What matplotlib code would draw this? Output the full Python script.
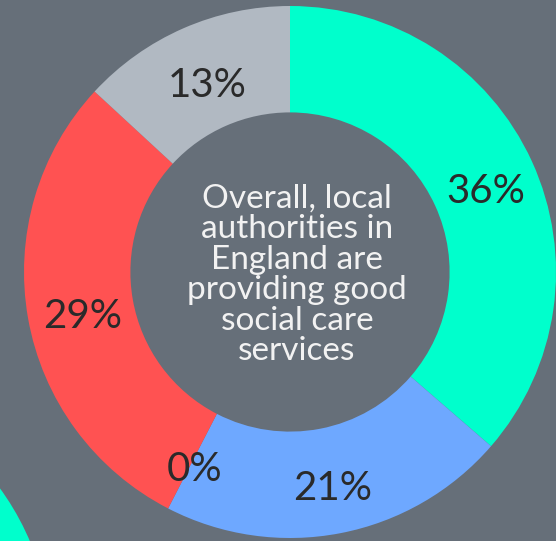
import matplotlib
matplotlib.use("Agg")
import matplotlib.pyplot as plt
from matplotlib.patches import Wedge

# Survey response shares (percent)
responses = ["Strongly agree", "Agree", "Neither", "Disagree", "Don't know"]
shares = [36, 21, 0, 29, 13]
colors = ["#00ffcc", "#6ea8ff", "#8a8a8a", "#ff5252", "#b1b9c2"]
question = "Overall, local\nauthorities in\nEngland are\nproviding good\nsocial care\nservices"

W, H = 556, 541
bg = "#666f79"

fig = plt.figure(figsize=(W / 100, H / 100), dpi=100, facecolor=bg)
ax = fig.add_axes([0, 0, 1, 1])
ax.set_facecolor(bg)

cx, cy, R = 290, 269, 266
wedges, texts, autotexts = ax.pie(
    shares,
    colors=colors,
    startangle=90,
    counterclock=False,
    radius=R,
    center=(cx, cy),
    wedgeprops=dict(width=R * 0.4, linewidth=0),
    autopct="%.0f%%",
    pctdistance=0.8,
    textprops=dict(family="Lato", fontsize=29, color="#2a2a2a"),
)
# sit the percentage labels on the ring's mid-line optically
for t in autotexts:
    x, y = t.get_position()
    t.set_position((x + 2, y - 8))

# Neighbouring ring peeking in from the lower-left corner
ax.add_patch(Wedge((-215, H - 645), R, 0, 360, width=R * 0.4,
                   facecolor="#00ffcc", linewidth=0))

ax.text(cx + 7, cy - 3, question, ha="center", va="center", family="Lato",
        fontsize=24, color="#f2f2f2", linespacing=1.02)

ax.set_xlim(0, W)
ax.set_ylim(0, H)
ax.set_aspect("equal")
ax.axis("off")

fig.savefig("out.png", dpi=100, facecolor=bg)
